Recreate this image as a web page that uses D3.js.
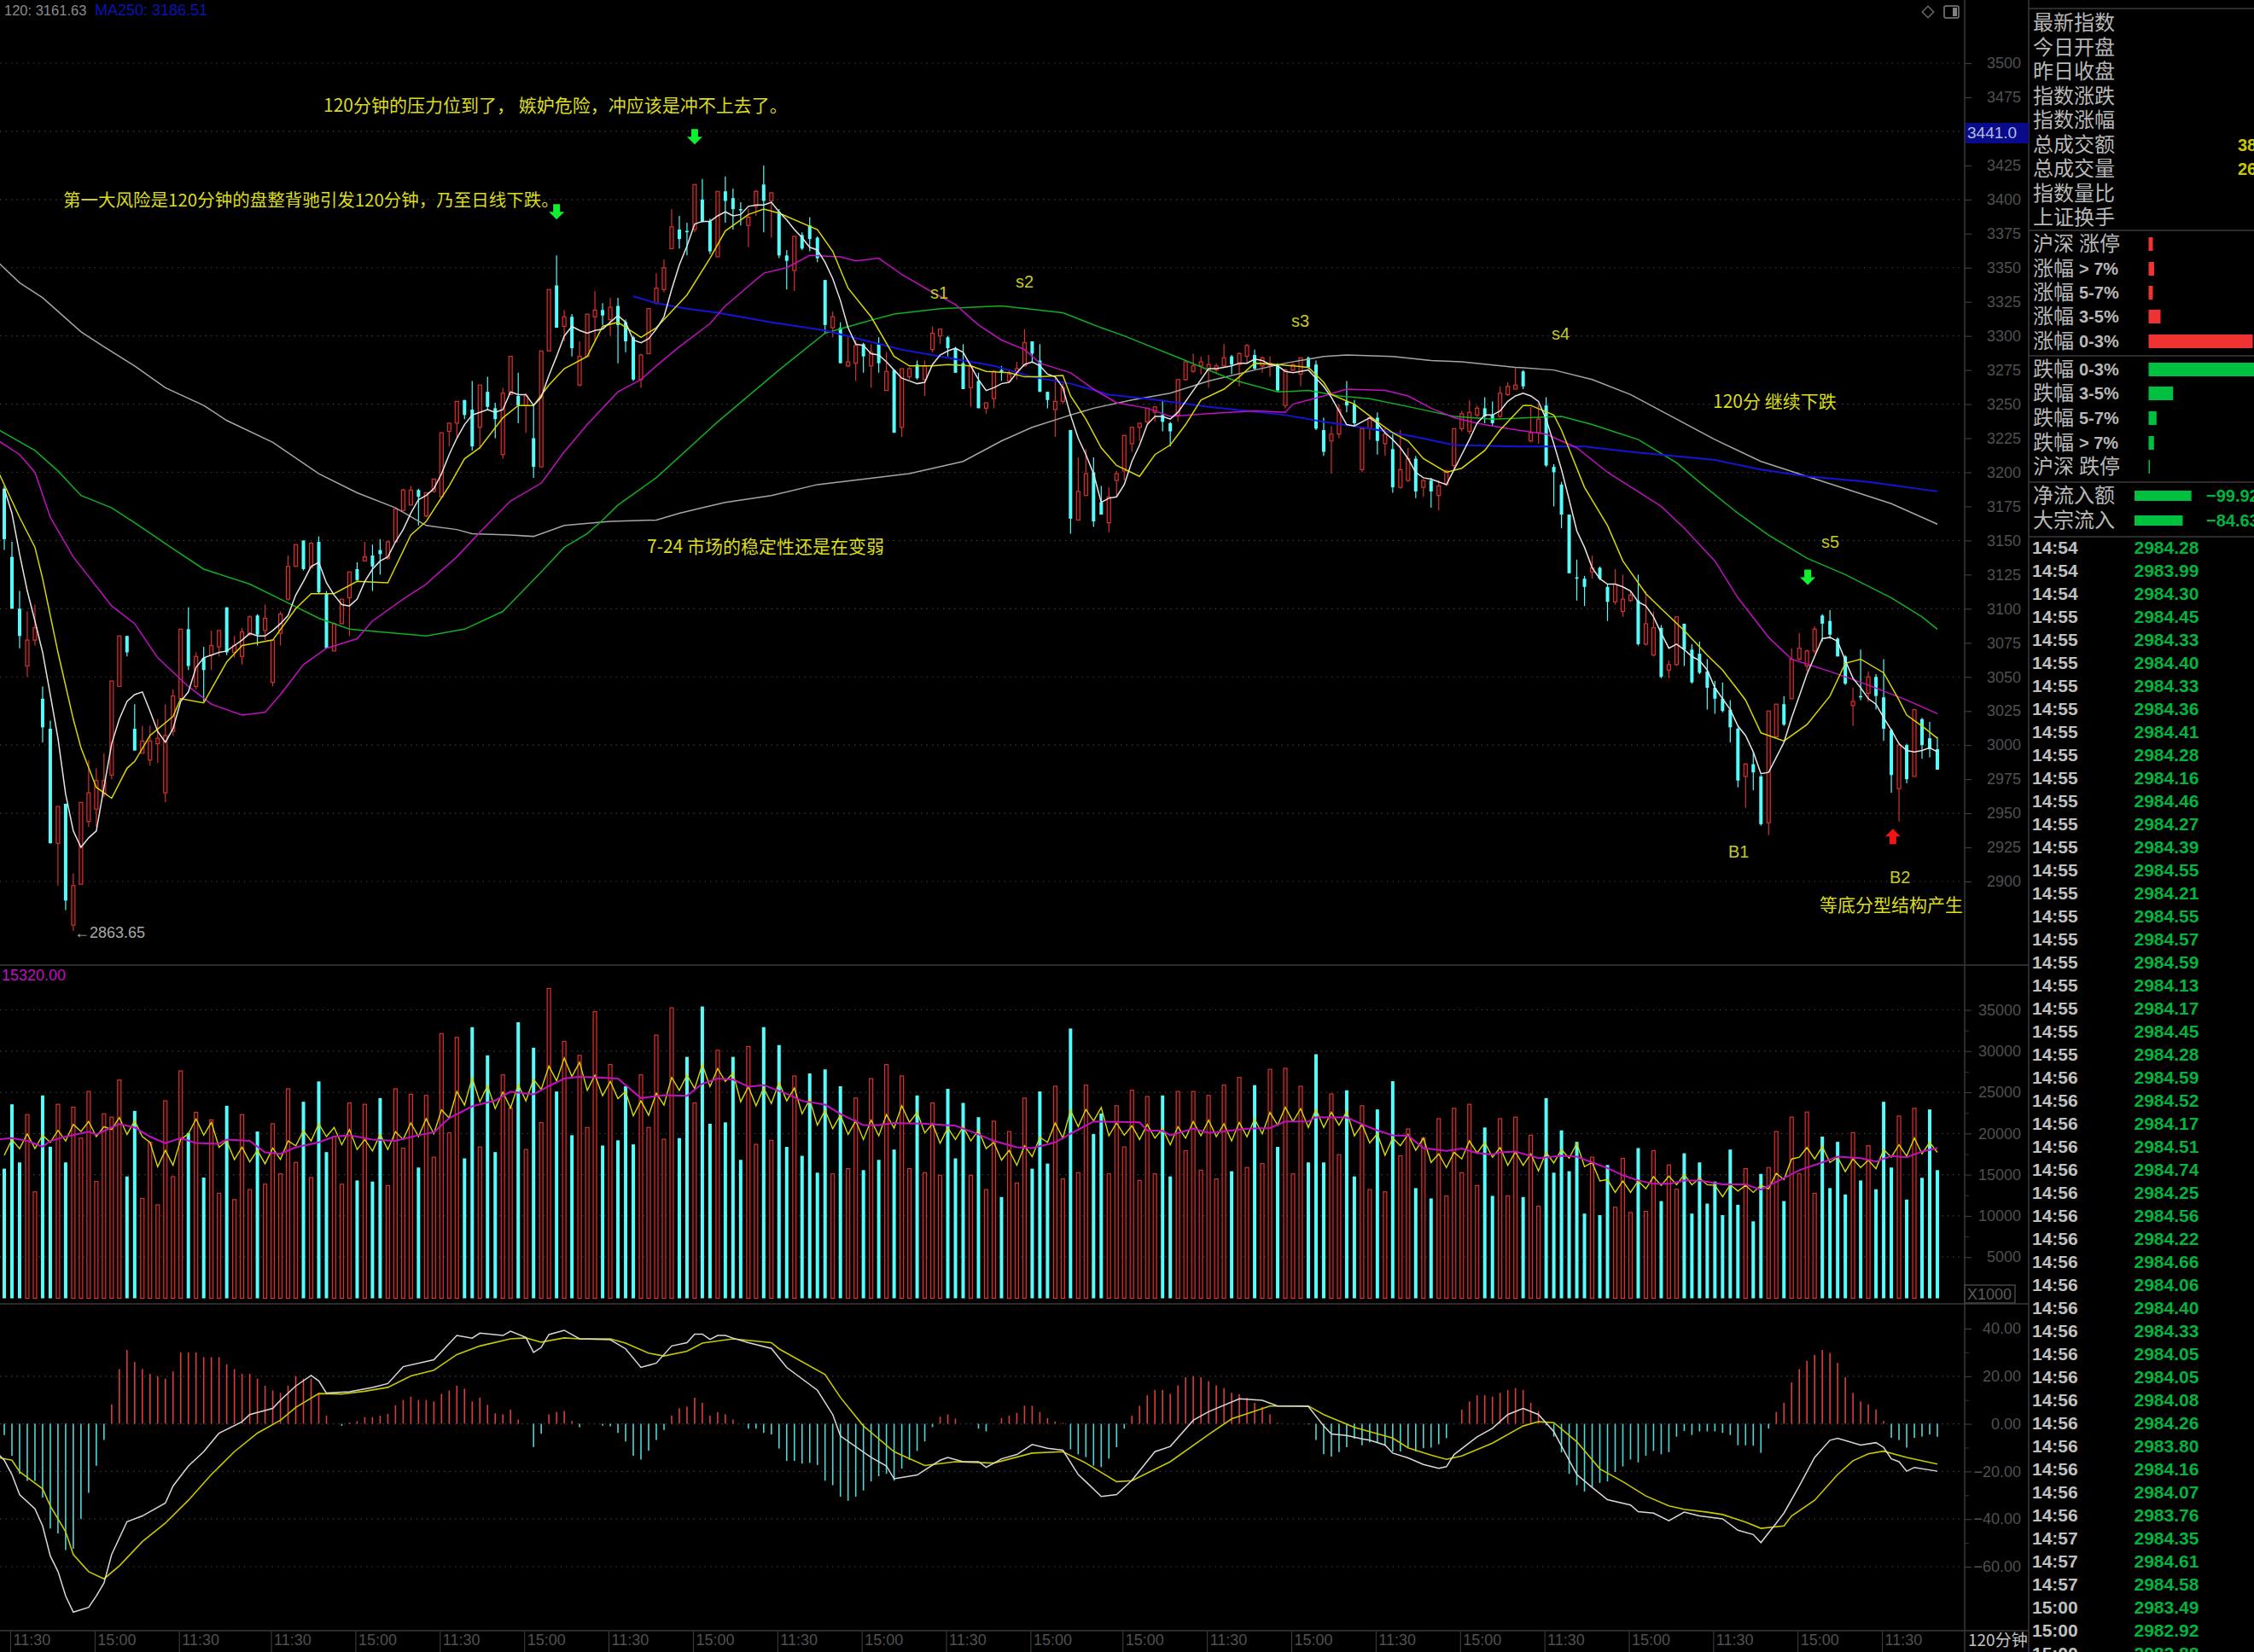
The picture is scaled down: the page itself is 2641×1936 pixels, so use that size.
<!DOCTYPE html>
<html>
<head>
<meta charset="utf-8">
<script src="https://cdn.jsdelivr.net/npm/d3@7"></script>
<style>
  html, body { margin: 0; padding: 0; background: #000; overflow: hidden; }
  svg { display: block; }
  text { font-family: "Liberation Sans", Arial, sans-serif; }
  .cjk { font-family: "Noto Sans CJK SC", sans-serif; }
</style>
</head>
<body>
<div id="viz"></div>
<script>
/* Candles, one value per 120 minute bar */
var opens = [
  3188,3138,3100,3058,3077,3034,3012,2928,2957,2868,2898,2944,2953,2964,2978,3043,3080,3012,2994,2989,
  3001,2965,3010,3034,3085,3043,3064,3066,3072,3101,3068,3065,3081,3095,3084,3046,3082,3107,3131,3150,
  3130,3149,3111,3069,3089,3108,3129,3135,3139,3143,3137,3149,3172,3176,3187,3168,3186,3182,3230,3236,
  3253,3246,3233,3259,3247,3213,3257,3256,3249,3225,3204,3289,3337,3307,3314,3264,3285,3314,3319,3312,
  3322,3310,3299,3268,3287,3324,3334,3364,3378,3377,3378,3400,3384,3358,3406,3401,3393,3381,3395,3411,
  3399,3391,3359,3348,3374,3381,3372,3341,3306,3306,3278,3280,3294,3278,3294,3260,3275,3233,3270,3279,
  3268,3290,3300,3299,3291,3280,3262,3267,3247,3254,3275,3267,3273,3278,3296,3282,3259,3246,3252,3231,
  3165,3183,3200,3178,3163,3194,3201,3221,3233,3237,3244,3242,3236,3242,3268,3274,3278,3275,3275,3278,
  3285,3279,3285,3286,3278,3278,3279,3249,3275,3272,3284,3279,3231,3223,3228,3252,3250,3202,3232,3240,
  3221,3217,3189,3194,3210,3189,3194,3183,3191,3205,3232,3230,3242,3247,3242,3241,3257,3261,3274,3223,
  3229,3249,3204,3191,3169,3123,3122,3127,3130,3116,3105,3098,3106,3106,3074,3066,3086,3055,3059,3089,
  3070,3067,3054,3042,3034,3026,3012,2977,2986,2977,2943,3006,3030,3034,3063,3058,3069,3095,3091,3078,
  3065,3029,3036,3038,3050,3035,3011,2968,3000,2977,3019,3005,2997
];
var closes = [
  3151,3100,3080,3077,3086,3013,2928,2955,2886,2897,2958,2965,2974,2974,3047,3080,3068,2996,3003,3003,
  3005,3007,3036,3085,3058,3065,3055,3073,3084,3068,3073,3083,3094,3081,3093,3077,3096,3131,3147,3129,
  3148,3112,3071,3089,3107,3127,3121,3138,3131,3140,3149,3173,3187,3187,3182,3185,3195,3229,3236,3252,
  3242,3219,3264,3248,3239,3258,3285,3249,3256,3204,3289,3334,3306,3314,3291,3285,3316,3319,3315,3321,
  3308,3296,3268,3286,3320,3335,3350,3380,3371,3376,3411,3384,3362,3406,3399,3393,3392,3387,3406,3399,
  3405,3359,3355,3373,3364,3371,3357,3308,3314,3280,3281,3293,3285,3288,3280,3274,3229,3276,3276,3269,
  3278,3302,3305,3291,3273,3261,3278,3247,3251,3274,3273,3272,3276,3295,3287,3259,3253,3252,3262,3166,
  3186,3199,3164,3169,3182,3199,3227,3233,3236,3247,3248,3237,3230,3268,3281,3278,3281,3279,3278,3284,
  3279,3287,3293,3276,3284,3280,3260,3275,3279,3284,3277,3232,3215,3228,3246,3249,3236,3232,3240,3223,
  3228,3189,3202,3210,3186,3194,3186,3190,3201,3232,3243,3244,3247,3241,3236,3258,3263,3264,3263,3229,
  3239,3205,3200,3169,3126,3122,3116,3130,3122,3105,3118,3107,3110,3074,3089,3086,3050,3059,3094,3070,
  3046,3053,3042,3034,3025,3013,2974,2986,2980,2942,3025,3030,3015,3063,3071,3069,3085,3089,3081,3065,
  3045,3032,3035,3050,3036,3012,2978,3000,2975,3026,3000,2997,2982
];
var highs = [
  3190,3149,3113,3098,3103,3043,3018,2955,2957,2906,2958,2989,2983,2994,3047,3080,3080,3030,3014,3014,
  3019,3030,3041,3085,3101,3068,3072,3084,3084,3101,3080,3086,3095,3096,3103,3077,3098,3139,3147,3150,
  3149,3153,3113,3090,3107,3127,3134,3149,3147,3151,3150,3173,3188,3190,3188,3185,3195,3229,3236,3252,
  3253,3267,3264,3270,3251,3262,3285,3273,3258,3250,3289,3334,3359,3319,3316,3296,3316,3333,3324,3328,
  3328,3312,3300,3287,3320,3346,3356,3393,3388,3383,3411,3415,3386,3406,3417,3408,3398,3393,3407,3425,
  3405,3393,3363,3373,3376,3387,3373,3341,3318,3310,3299,3297,3295,3294,3299,3288,3275,3276,3277,3282,
  3282,3307,3305,3300,3292,3294,3280,3273,3251,3275,3278,3275,3281,3305,3296,3294,3259,3270,3265,3231,
  3211,3217,3211,3190,3189,3201,3227,3233,3236,3247,3248,3253,3237,3268,3281,3287,3285,3286,3280,3294,
  3286,3288,3294,3290,3285,3285,3280,3276,3280,3284,3285,3282,3240,3234,3250,3267,3253,3233,3241,3244,
  3232,3228,3231,3218,3212,3195,3196,3194,3202,3232,3245,3253,3249,3255,3252,3263,3266,3277,3275,3248,
  3250,3255,3206,3193,3169,3136,3124,3139,3131,3118,3129,3125,3113,3125,3113,3098,3088,3062,3094,3089,
  3074,3076,3063,3047,3046,3033,3013,2987,2995,2978,3025,3030,3036,3071,3082,3070,3087,3096,3099,3079,
  3066,3042,3070,3054,3052,3063,3012,3001,3001,3026,3020,3017,3006
];
var lows = [
  3143,3100,3071,3050,3073,3002,2928,2897,2879,2863.65,2898,2940,2940,2962,2975,3043,3065,2996,2994,2985,
  2987,2958,3007,3034,3055,3041,3032,3055,3065,3066,3064,3059,3080,3073,3077,3043,3073,3106,3131,3128,
  3130,3111,3071,3069,3089,3080,3120,3135,3113,3125,3136,3149,3172,3176,3161,3167,3185,3182,3219,3226,
  3239,3216,3217,3246,3225,3210,3257,3236,3229,3196,3204,3289,3306,3296,3285,3263,3285,3296,3308,3300,
  3280,3288,3267,3262,3287,3323,3332,3364,3364,3359,3376,3383,3360,3358,3383,3378,3381,3365,3388,3376,
  3372,3357,3334,3333,3363,3362,3354,3302,3299,3280,3277,3267,3273,3262,3273,3260,3229,3226,3268,3268,
  3256,3288,3294,3285,3273,3261,3248,3247,3243,3247,3267,3266,3268,3278,3280,3259,3247,3226,3250,3155,
  3165,3183,3160,3169,3156,3182,3194,3215,3223,3235,3237,3230,3219,3237,3267,3273,3272,3262,3273,3278,
  3272,3263,3280,3275,3273,3270,3259,3247,3274,3263,3276,3231,3212,3199,3225,3244,3234,3200,3224,3213,
  3212,3185,3188,3193,3181,3182,3174,3172,3190,3202,3230,3228,3240,3236,3234,3239,3256,3261,3261,3222,
  3221,3204,3175,3159,3126,3106,3102,3122,3121,3091,3103,3094,3105,3073,3073,3065,3049,3049,3058,3058,
  3045,3052,3026,3023,3024,3002,2969,2954,2967,2941,2934,3006,3014,3034,3062,3054,3067,3076,3078,3065,
  3044,3014,3033,3032,3026,3003,2965,2944,2972,2977,2990,2991,2982
];

/* Volume bars and the two volume averages */
var volumes = [
  15730,23540,16490,22290,12920,24620,18400,23540,16490,23190,19440,25100,14170,22390,21980,26490,14790,22740,12120,18920,
  11350,23960,14760,27600,20070,22570,14650,21670,12740,23370,11980,22290,13190,20240,13850,21180,15100,25420,16490,23850,
  14650,26320,17740,19620,13850,23710,14300,23540,14170,24300,13680,25420,18230,24760,15870,24620,17120,32120,20070,31660,
  16980,32910,18370,29480,17740,27120,23090,33500,18050,30410,21320,37600,25100,31180,19790,29480,20730,34790,18540,28370,
  19170,25730,18680,27120,20730,31940,19300,35240,19440,29300,23710,35410,21180,30100,21350,29300,16800,30550,18680,32910,
  19170,30730,18370,26980,17290,27290,15240,27780,15100,25730,15730,24300,15550,26660,16800,28370,18050,26980,15730,24620,
  15240,23710,14930,25420,16980,23710,14930,21980,13190,21490,12290,20240,13990,24300,15730,25100,16350,25730,14480,32740,
  15240,25870,19930,22430,15100,23370,18370,25240,14300,24480,15100,24620,14790,25100,17920,25100,15550,24620,14480,25870,
  15420,26800,15870,25870,16350,27780,18370,27910,15100,25730,16490,29620,16490,24790,17430,25240,14790,23370,13190,22920,
  12920,26350,17290,20550,13370,19440,12120,21800,12430,23050,15240,23540,13680,20730,12430,21800,12430,21980,12290,19790,
  11180,24300,15240,20380,15420,18990,10280,17120,10100,16180,11040,16980,10420,18230,10550,17920,11800,16180,13230,17600,
  10280,16490,11490,14170,10100,18050,11350,15730,9340,15100,15870,20240,11800,21980,15100,22600,12740,19620,13370,18990,
  12600,20100,14300,18510,13230,23850,15870,22120,11980,23050,14620,22920,15550
];
var volShort = [
  17360,19270,18160,19960,18160,19790,18920,20380,19100,21110,20240,21460,19620,20830,20480,21940,19890,21530,19620,18920,
  15970,17950,16140,19270,19960,21770,19790,21350,18330,19100,16840,18330,16560,17950,16320,18230,16840,19100,18510,20310,
  19100,21180,19620,20730,18640,20480,18050,19270,17880,19890,18050,20210,19270,21280,19620,21800,19960,22880,21870,25100,
  23440,26730,23850,25800,23020,25030,23090,25940,23960,26560,25350,28190,26390,29160,26910,28640,25240,27080,24580,26320,
  24230,25100,22150,23960,22220,24890,23440,26800,25240,27080,25450,28370,25690,27880,26320,27320,23850,25690,23370,25520,
  23640,26210,23960,25520,22390,24130,21010,22810,20590,22220,19890,21530,19270,21630,19720,22290,20660,23370,21350,22570,
  20070,21180,18820,20660,19270,20830,19100,20380,18160,18920,16770,17950,16140,18510,17190,19550,18920,21280,19440,22810,
  20830,22920,21530,23160,19720,21280,19790,20940,19270,21110,19440,20590,18640,20830,19440,21460,19720,21630,19620,21180,
  19100,21350,19620,21770,19960,22570,21010,23190,21460,23020,20730,22920,20730,22570,21010,22670,19720,21110,18850,19960,
  17360,19440,18510,19890,17950,19440,16490,17530,15870,17710,16910,19100,17640,18920,17120,18300,16140,17780,16140,17530,
  15450,17710,16420,18050,17010,18820,15970,16490,14240,14410,12850,14240,12850,14240,13300,14760,13710,14830,13780,15030,
  13780,14580,13780,13710,12330,13780,13020,13710,12850,13710,13300,15170,14410,16910,17120,18300,16910,18400,16490,17120,
  15380,16910,15870,16770,15730,18050,17120,18640,17260,19440,17530,18920,17710
];
var volLong = [
  [-1,19270],[1,19440],[3,19100],[5,18400],[6,19100],[8,19620],[11,20210],[12,19890],[15,21140],[17,20730],[19,19620],
  [21,18820],[23,19440],[25,18850],[28,18750],[29,19270],[32,19100],[34,17710],[36,17530],[38,18330],[41,18920],[43,19620],
  [45,19790],[48,19270],[51,19100],[54,19790],[56,20140],[58,21870],[61,23300],[64,24000],[66,25070],[69,24760],[71,25760],
  [73,26660],[75,26900],[80,26660],[83,24300],[86,24650],[89,24580],[91,26040],[93,26660],[95,26560],[97,25690],[99,25870],
  [102,24820],[104,23960],[107,23500],[109,22390],[112,21010],[114,21010],[116,21280],[120,21180],[124,20940],[127,19890],
  [129,19100],[132,18330],[134,18230],[137,18920],[139,19960],[142,21460],[148,21350],[149,20380],[151,20310],[152,19790],
  [155,20590],[157,20070],[162,20590],[165,20660],[167,21460],[170,21460],[171,21980],[175,21940],[177,21110],[179,20380],
  [181,19790],[183,19720],[185,18230],[188,17880],[190,18160],[192,17640],[194,17460],[195,17710],[197,17810],[200,17010],
  [203,17290],[205,17190],[207,16490],[209,15800],[211,14930],[213,14300],[215,13890],[217,13890],[219,14300],[221,14300],
  [224,13820],[227,13820],[229,13190],[231,14130],[234,15550],[237,16490],[239,17190],[242,17010],[244,16600],[246,17260],
  [248,17120],[250,17810],[252,18230]
];

/* Price averages: the fast one per bar, the others as [bar, value] readings */
var ma5 = [
  3188,3170,3140,3113,3091,3068,3037,3005,2964,2937,2925,2932,2937,2969,3001,3019,3032,3037,3039,3025,
  3010,3002,3012,3032,3039,3057,3064,3066,3068,3069,3073,3077,3082,3080,3080,3084,3089,3095,3110,3120,
  3131,3134,3119,3110,3103,3102,3107,3120,3129,3135,3138,3149,3158,3170,3180,3183,3188,3199,3213,3225,
  3235,3242,3244,3246,3244,3246,3259,3257,3257,3249,3255,3271,3285,3300,3307,3304,3302,3304,3305,3310,
  3315,3310,3297,3295,3298,3305,3314,3334,3352,3366,3382,3384,3384,3388,3391,3388,3389,3395,3396,3396,
  3398,3391,3385,3378,3372,3365,3363,3354,3342,3326,3306,3294,3293,3287,3286,3281,3275,3269,3267,3265,
  3266,3279,3286,3289,3291,3288,3278,3268,3260,3262,3265,3266,3273,3279,3281,3278,3272,3270,3262,3242,
  3225,3213,3199,3178,3181,3182,3191,3208,3220,3235,3241,3241,3239,3244,3252,3260,3268,3276,3276,3277,
  3278,3280,3280,3283,3282,3279,3278,3274,3273,3274,3275,3269,3263,3255,3245,3235,3234,3237,3240,3236,
  3229,3224,3218,3210,3200,3196,3195,3193,3191,3202,3213,3224,3236,3242,3242,3245,3252,3256,3258,3256,
  3252,3239,3221,3202,3180,3157,3145,3130,3122,3118,3118,3116,3113,3105,3102,3094,3082,3071,3074,3070,
  3065,3062,3055,3042,3034,3026,3014,3007,2995,2979,2980,2991,3002,3020,3036,3052,3065,3078,3079,3076,
  3062,3049,3042,3034,3030,3020,3011,3001,2996,2995,2996,2998,2995
];
var ma10 = [
  [-1,3203],[2,3167],[4,3145],[5,3122],[7,3068],[9,3019],[10,2998],[12,2969],[14,2961],[16,2983],[17,2988],[19,3007],
  [22,3021],[23,3034],[26,3031],[29,3061],[31,3073],[35,3077],[38,3100],[40,3111],[43,3111],[46,3120],[50,3119],[53,3154],
  [55,3164],[58,3190],[60,3210],[62,3218],[65,3240],[67,3249],[69,3249],[71,3264],[73,3276],[76,3285],[78,3307],[80,3310],
  [83,3299],[85,3306],[86,3312],[89,3330],[92,3357],[94,3377],[97,3389],[99,3393],[101,3390],[106,3378],[108,3362],
  [110,3335],[113,3314],[116,3285],[118,3278],[121,3278],[123,3279],[126,3278],[128,3274],[131,3273],[133,3270],[135,3270],
  [138,3271],[139,3256],[141,3239],[143,3218],[145,3205],[148,3197],[150,3213],[152,3220],[154,3235],[156,3253],[159,3261],
  [161,3270],[163,3280],[166,3279],[170,3277],[172,3266],[173,3257],[176,3250],[179,3237],[181,3229],[183,3223],[185,3210],
  [188,3200],[190,3203],[193,3216],[195,3231],[198,3249],[199,3249],[202,3242],[203,3231],[206,3189],[209,3161],[211,3135],
  [214,3111],[216,3100],[219,3084],[222,3066],[224,3055],[227,3033],[229,3009],[232,3003],[235,3015],[238,3036],[240,3060],
  [242,3063],[245,3053],[247,3033],[248,3022],[250,3014],[252,3005]
];
var ma30 = [
  [-1,3224],[2,3213],[4,3200],[6,3167],[9,3138],[14,3102],[17,3089],[20,3064],[24,3043],[27,3030],[31,3022],[34,3024],
  [36,3037],[39,3059],[42,3071],[46,3078],[48,3091],[52,3107],[55,3118],[59,3138],[62,3156],[66,3179],[70,3192],[73,3215],
  [76,3235],[80,3259],[83,3268],[85,3278],[88,3292],[92,3309],[94,3322],[99,3346],[102,3350],[105,3359],[109,3358],
  [111,3355],[114,3357],[117,3345],[121,3332],[124,3323],[127,3308],[130,3297],[133,3290],[135,3280],[139,3273],[142,3261],
  [145,3251],[149,3247],[152,3241],[157,3243],[163,3245],[167,3244],[168,3250],[172,3256],[175,3261],[180,3260],[183,3256],
  [186,3247],[189,3240],[192,3236],[196,3232],[201,3228],[205,3218],[209,3200],[216,3175],[219,3159],[223,3135],[226,3108],
  [230,3079],[233,3063],[238,3054],[243,3044],[248,3033],[252,3023]
];
var ma60 = [
  [-1,3232],[4,3216],[7,3201],[10,3183],[14,3174],[17,3163],[22,3144],[26,3129],[32,3118],[36,3107],[41,3093],[45,3085],
  [49,3083],[55,3080],[60,3085],[65,3098],[70,3127],[73,3145],[76,3155],[78,3165],[80,3176],[85,3196],[93,3237],[101,3275],
  [107,3302],[112,3310],[116,3316],[122,3320],[130,3322],[138,3317],[143,3306],[146,3300],[154,3282],[160,3268],[166,3259],
  [170,3260],[174,3256],[178,3254],[184,3247],[189,3241],[194,3239],[203,3241],[207,3235],[213,3224],[218,3207],[222,3188],
  [226,3170],[230,3154],[235,3137],[240,3125],[246,3108],[250,3094],[252,3085]
];
var ma120 = [
  [-1,3355],[2,3339],[5,3328],[10,3303],[13,3292],[17,3278],[21,3262],[26,3249],[29,3238],[35,3222],[41,3199],[46,3185],
  [51,3174],[55,3161],[59,3158],[61,3155],[66,3154],[69,3153],[73,3161],[79,3164],[85,3165],[88,3170],[91,3174],[94,3178],
  [100,3183],[106,3191],[112,3195],[118,3199],[125,3208],[130,3223],[134,3233],[139,3242],[142,3247],[147,3253],[152,3258],
  [157,3267],[163,3275],[167,3280],[172,3285],[175,3286],[181,3285],[186,3282],[190,3281],[197,3277],[202,3275],[207,3268],
  [212,3257],[218,3239],[223,3224],[229,3208],[235,3197],[240,3188],[246,3177],[252,3162]
];
var ma250 = [
  [82,3329],[85,3324],[89,3320],[93,3317],[100,3310],[107,3304],[112,3297],[117,3290],[123,3284],[129,3278],[134,3270],
  [139,3265],[144,3257],[149,3254],[157,3248],[167,3242],[172,3237],[178,3232],[184,3226],[189,3220],[197,3219],[206,3219],
  [212,3215],[223,3209],[229,3202],[235,3197],[243,3193],[252,3186]
];

/* MACD: histogram per bar, DIF and DEA as [bar, value] readings */
var macdHist = [
  -4.7,-13.4,-21,-24,-24,-31,-44,-46,-53,-52.5,-40,-29,-17.6,-6.8,8.2,23,31,26,23,21,
  20,19,22,30,30,30,28,28,28,25,23,21,21,19,16,14,13,16,20,19,
  19,13,3.4,0,-0.8,0.6,1.2,2.8,2.8,3.4,4.2,7.8,10,11.4,10,10,9.4,12.6,14,16,
  14.8,9.4,11,8,4.4,4,6,1.8,0,-9.7,-4.2,4,5,5.4,1.2,-1.4,0,0,-0.8,-1,
  -3.8,-7.4,-13.4,-15,-11.3,-6.8,-2.6,3.4,6.6,7.2,11,8.8,3.4,4.9,4,1.8,0,-2,-2,-3.8,
  -4.4,-10.4,-15.6,-15.6,-16.7,-16.4,-17.3,-23.9,-25.8,-30.6,-32.3,-30.6,-28,-24.2,-22,-21,-23.9,-18.8,-15.2,-11.4,
  -7.4,-1.4,3,4,2.2,0,0,-2,-3.2,0,2.4,3.4,4.6,7.6,7.6,4.9,2.4,1,0.4,-10.7,
  -12.8,-14,-17.6,-18.2,-14.6,-9.8,-2,3.4,7.6,12,14.2,14.2,12.6,16.2,19.6,20,19.6,18,16.2,15,
  13,12.4,11,8.8,7,4,0.4,0,0,0,-0.2,-6.8,-12.8,-13.8,-11.9,-9.8,-6.2,-9,-7.8,-8,
  -9.2,-11.6,-11.6,-9.8,-11.6,-10.2,-10,-8.6,-6,0,6,9.4,12,12,11.4,13,14.2,15,14.2,8.8,
  5.4,-0.6,-5.4,-12,-21,-25.8,-28.4,-26.4,-24.8,-24.2,-20.2,-17.9,-15,-16.2,-13.4,-11.4,-12.8,-11.9,-5.4,-3,
  -4.7,-3.2,-3.2,-3.2,-3.8,-4.7,-9,-9,-9.2,-12.2,-2,4.9,8.8,17.4,23,26.5,29,31,29.8,25.6,
  19.6,13,9.4,8.2,6,1.2,-5.9,-6.8,-10,-5.9,-5.3,-4.4,-5.4
];
var dif = [
  [-1,-12],[0,-15.3],[1,-21.3],[2,-29.7],[4,-35.7],[5,-42.9],[6,-55.5],[7,-62],[8,-72.3],[9,-79.1],[11,-77.1],[12,-72.3],
  [13,-66.9],[14,-54.9],[16,-41.1],[18,-38.7],[21,-33.3],[22,-26.1],[24,-17.7],[26,-11.7],[28,-3.9],[31,0.9],[32,3.9],
  [35,6.5],[36,9.9],[38,15.9],[40,20.3],[41,18],[42,12.9],[45,13.5],[48,15.3],[50,16.9],[52,24],[56,26.9],[59,37.1],
  [61,36],[62,38.1],[65,37.1],[66,38.9],[68,36.3],[69,30],[70,32.1],[71,37.5],[73,39.3],[75,35.7],[79,35.3],[81,31.5],
  [83,23.7],[85,25.5],[87,32.7],[89,34.1],[90,37.7],[91,37.7],[92,35.5],[93,37.1],[94,37.1],[95,36],[97,34.1],[100,31.7],
  [102,23.7],[106,14.1],[108,3.9],[109,-5.1],[113,-14.1],[115,-17.7],[116,-23.1],[119,-21.5],[122,-15.3],[123,-14.1],
  [125,-15.9],[127,-15.9],[128,-18.3],[130,-14.7],[132,-12.9],[134,-8.7],[136,-10.3],[138,-11.1],[140,-21.3],[141,-24.3],
  [143,-30.5],[145,-29.7],[147,-23.7],[150,-11.7],[152,-9.5],[155,1.5],[157,5.1],[161,10.5],[164,9.9],[166,7.5],[170,7.3],
  [172,-0.9],[173,-4.3],[175,-4.9],[177,-6.3],[178,-6.9],[180,-8.9],[181,-12.3],[183,-14.3],[185,-17.1],[187,-18.7],
  [188,-18],[189,-12.9],[192,-5.5],[194,-1.9],[196,3.9],[198,6.5],[200,3.9],[202,-3.3],[203,-9.3],[205,-21.3],[207,-26.7],
  [209,-31.9],[212,-34.1],[213,-36.9],[215,-37.5],[217,-40.7],[219,-37.1],[221,-38.7],[224,-39.9],[226,-44.7],[228,-46.5],
  [229,-49.9],[231,-41.7],[232,-37.5],[234,-26.1],[236,-14.1],[238,-6.9],[239,-6.1],[242,-8.9],[244,-7.9],[245,-9.9],
  [246,-14.7],[247,-15.9],[248,-19.9],[249,-18.3],[252,-19.9]
];
var dea = [
  [-1,-14],[1,-15.3],[2,-20.1],[5,-27.3],[6,-34.5],[8,-45.3],[9,-54.9],[11,-62.1],[13,-65.1],[15,-59.7],[18,-49.5],[21,-41.7],
  [24,-32.1],[27,-21.3],[30,-11.7],[33,-3.9],[36,1.5],[38,6.9],[41,12.7],[44,12.5],[47,13.7],[50,15.3],[53,20.1],[56,22.5],
  [59,29.1],[62,32.7],[66,35.7],[68,36.1],[70,34.3],[73,36.1],[75,35.7],[79,35.7],[81,33.9],[84,29.7],[86,28.5],[89,30.5],
  [91,33.9],[95,35.7],[100,34.1],[101,31.5],[107,20.7],[109,11.1],[112,-0.9],[116,-11.7],[120,-17.5],[124,-15.9],[129,-16.5],
  [134,-12.3],[138,-11.7],[141,-16.5],[145,-24.3],[147,-23.9],[152,-15.9],[157,-4.5],[160,2.1],[165,7.5],[170,7.5],[172,3.9],
  [176,-1.5],[181,-6],[183,-10.1],[186,-13.1],[188,-14.9],[190,-13.5],[194,-8.1],[198,-0.9],[200,0.9],[202,0.5],[205,-7.5],
  [208,-18.9],[211,-24.3],[214,-30.3],[217,-34.5],[219,-35.9],[222,-37.1],[224,-38.1],[227,-41.3],[229,-43.9],[232,-42.9],
  [233,-38.7],[236,-32.1],[239,-21.3],[241,-15.5],[243,-12.6],[245,-11.5],[248,-14.1],[252,-16.9]
];

/* Axis labels */
var priceTicks = [3500,3475,3425,3400,3375,3350,3325,3300,3275,3250,3225,3200,3175,3150,3125,3100,3075,3050,3025,3000,2975,2950,2925,2900];
var priceGrid = [3500,3450,3400,3350,3300,3250,3200,3150,3100,3050,3000,2950,2900];
var volTicks = [35000,30000,25000,20000,15000,10000,5000];
var volMinorTicks = [32500,27500,22500,17500,12500,7500];
var macdTicks = [40,20,0,-20,-40,-60];
var macdMinorTicks = [30,10,-10,-30,-50];
var macdGrid = [20,0,-20,-40,-60];
var timeBars = [1,12,23,35,46,57,68,79,90,101,112,123,134,146,157,168,179,190,201,212,223,234,245];
var timeLabels = ["11:30","15:00","11:30","11:30","15:00","11:30","15:00","11:30","15:00","11:30","15:00","11:30","15:00","15:00","11:30","15:00","11:30","15:00","11:30","15:00","11:30","15:00","11:30"];

/* Right hand quote panel */
var infoLabels = ["最新指数","今日开盘","昨日收盘","指数涨跌","指数涨幅","总成交额","总成交量","指数量比","上证换手"];
var breadthLeft = ["沪深","涨幅","涨幅","涨幅","涨幅","跌幅","跌幅","跌幅","跌幅","沪深"];
var breadthRight = ["涨停","> 7%","5-7%","3-5%","0-3%","0-3%","3-5%","5-7%","> 7%","跌停"];
var breadthCounts = [50,65,50,140,1220,1300,287,93,63,15];
var flowLabels = ["净流入额","大宗流入"];
var flowValues = [-99.92,-84.63];
var tapeTimes = ["14:54","14:54","14:54","14:55","14:55","14:55","14:55","14:55","14:55","14:55","14:55","14:55","14:55","14:55","14:55","14:55","14:55","14:55","14:55","14:55","14:55","14:55","14:55","14:56","14:56","14:56","14:56","14:56","14:56","14:56","14:56","14:56","14:56","14:56","14:56","14:56","14:56","14:56","14:56","14:56","14:56","14:56","14:56","14:57","14:57","14:57","15:00","15:00","15:00"];
var tapePrices = [2984.28,2983.99,2984.30,2984.45,2984.33,2984.40,2984.33,2984.36,2984.41,2984.28,2984.16,2984.46,2984.27,2984.39,2984.55,2984.21,2984.55,2984.57,2984.59,2984.13,2984.17,2984.45,2984.28,2984.59,2984.52,2984.17,2984.51,2984.74,2984.25,2984.56,2984.22,2984.66,2984.06,2984.40,2984.33,2984.05,2984.05,2984.08,2984.26,2983.80,2984.16,2984.07,2983.76,2984.35,2984.61,2984.58,2983.49,2982.92,2982.88];

var width = 2641;
var height = 1936;
var axisX = 2302;
var panelX = 2377;
var gridColor = "#3c3c3c";
var lineColor = "#3a3a3a";
var tickColor = "#505050";
var upColor = "#d23232";
var downColor = "#54fcfc";
var noteColor = "#dcdc1e";

var svg = d3
  .select("#viz")
  .append("svg")
  .attr("width", width)
  .attr("height", height);

svg.append("rect").attr("width", width).attr("height", height).attr("fill", "#000");

/* Scales */
var xScale = d3.scaleLinear().domain([0, 252]).range([5, 2270]);
var yPrice = d3.scaleLinear().domain([2900, 3500]).range([1033, 74]);
var yVol = d3.scaleLinear().domain([0, 35000]).range([1521.5, 1183.5]);
var yMacd = d3.scaleLinear().domain([-60, 40]).range([1836, 1557]);
var flowWidth = d3.scaleLinear().domain([0, 100]).range([0, 66.7]);
var breadthWidth = d3.scaleLinear().domain([0, 1000]).range([0, 100]);

function gridLines(values, scale) {
  svg
    .append("g")
    .selectAll("line")
    .data(values)
    .enter()
    .append("line")
    .attr("x1", 0)
    .attr("x2", axisX)
    .attr("y1", d => scale(d))
    .attr("y2", d => scale(d))
    .attr("stroke", gridColor)
    .attr("stroke-width", 1.2)
    .attr("stroke-dasharray", "1.5 5");
}
gridLines(priceGrid, yPrice);
gridLines(volTicks, yVol);
gridLines(macdGrid, yMacd);

/* Right axes with labels flush to the panel edge */
function rightAxis(scale, ticks, format, minor) {
  var g = svg
    .append("g")
    .attr("transform", `translate(${axisX},0)`)
    .call(d3.axisRight(scale).tickValues(ticks).tickFormat(format).tickSize(8));
  g.select(".domain").remove();
  g.selectAll("line").attr("stroke", "#444");
  g.selectAll("text")
    .attr("x", 66)
    .attr("text-anchor", "end")
    .attr("fill", tickColor)
    .attr("font-size", 18)
    .style("font-family", '"Liberation Sans"');
  if (minor) {
    var m = svg
      .append("g")
      .attr("transform", `translate(${axisX},0)`)
      .call(d3.axisRight(scale).tickValues(minor).tickFormat("").tickSize(5));
    m.select(".domain").remove();
    m.selectAll("line").attr("stroke", "#333");
  }
}
rightAxis(yPrice, priceTicks, d3.format("d"));
rightAxis(yVol, volTicks, d3.format("d"), volMinorTicks);
rightAxis(yMacd, macdTicks, d3.format(".2f"), macdMinorTicks);

/* Candles */
var candles = svg.append("g");
candles
  .selectAll("line")
  .data(opens)
  .enter()
  .append("line")
  .attr("x1", (d, i) => xScale(i))
  .attr("x2", (d, i) => xScale(i))
  .attr("y1", (d, i) => yPrice(highs[i]))
  .attr("y2", (d, i) => yPrice(lows[i]))
  .attr("stroke", (d, i) => (closes[i] >= d ? upColor : downColor))
  .attr("stroke-width", 1.2);
candles
  .selectAll("rect")
  .data(opens)
  .enter()
  .append("rect")
  .attr("x", (d, i) => xScale(i) - 2)
  .attr("width", 4)
  .attr("y", (d, i) => yPrice(Math.max(d, closes[i])))
  .attr("height", (d, i) => Math.max(1.5, Math.abs(yPrice(d) - yPrice(closes[i]))))
  .attr("fill", (d, i) => (closes[i] >= d ? "#1a0505" : downColor))
  .attr("stroke", (d, i) => (closes[i] >= d ? upColor : "none"))
  .attr("stroke-width", 1.2);

/* Moving average lines */
var pairLine = d3.line().x(d => xScale(d[0])).y(d => yPrice(d[1]));
var seriesLine = d3.line().x((d, i) => xScale(i)).y(d => yPrice(d));

function drawPath(d, color, w) {
  svg
    .append("path")
    .attr("d", d)
    .attr("fill", "none")
    .attr("stroke", color)
    .attr("stroke-width", w);
}
drawPath(pairLine(ma120), "#a6a6a6", 1.5);
drawPath(pairLine(ma60), "#10b020", 1.5);
drawPath(pairLine(ma250), "#1414d8", 2);
drawPath(pairLine(ma30), "#c010c0", 1.5);
drawPath(pairLine(ma10), "#d8d800", 1.5);
drawPath(seriesLine(ma5), "#e4e4e4", 1.5);

/* Volume bars */
var volBars = svg.append("g");
volBars
  .selectAll("rect")
  .data(volumes)
  .enter()
  .append("rect")
  .attr("x", (d, i) => xScale(i) - 2)
  .attr("width", 4)
  .attr("y", d => yVol(d))
  .attr("height", d => yVol(0) - yVol(d))
  .attr("fill", (d, i) => (closes[i] >= opens[i] ? "#1a0505" : downColor))
  .attr("stroke", (d, i) => (closes[i] >= opens[i] ? upColor : "none"))
  .attr("stroke-width", 1.2);

drawPath(d3.line().x((d, i) => xScale(i)).y(d => yVol(d))(volShort), "#d8d800", 1.4);
drawPath(d3.line().x(d => xScale(d[0])).y(d => yVol(d[1]))(volLong), "#c010c0", 2);

/* MACD histogram and lines */
svg
  .append("g")
  .selectAll("line")
  .data(macdHist)
  .enter()
  .append("line")
  .attr("x1", (d, i) => xScale(i))
  .attr("x2", (d, i) => xScale(i))
  .attr("y1", yMacd(0))
  .attr("y2", d => yMacd(d))
  .attr("stroke", d => (d >= 0 ? "#dc3c3c" : "#4cd8d8"))
  .attr("stroke-width", 1.6);

var macdLine = d3.line().x(d => xScale(d[0])).y(d => yMacd(d[1]));
drawPath(macdLine(dea), "#c8c800", 1.6);
drawPath(macdLine(dif), "#d8d8d8", 1.5);

/* Time axis */
var timeAxis = svg
  .append("g")
  .attr("transform", "translate(0,1911)")
  .call(
    d3
      .axisBottom(d3.scaleLinear().domain([0, 252]).range([xScale(0) - 2, xScale(252) - 2]))
      .tickValues(timeBars)
      .tickFormat((d, i) => timeLabels[i])
      .tickSize(25)
  );
timeAxis.select(".domain").remove();
timeAxis.selectAll("line").attr("stroke", "#404040");
timeAxis
  .selectAll("text")
  .attr("x", 3)
  .attr("y", 11)
  .attr("dy", "0.35em")
  .attr("text-anchor", "start")
  .attr("fill", tickColor)
  .attr("font-size", 18)
  .style("font-family", '"Liberation Sans"');

/* Panel frames */
function rule(x1, y1, x2, y2, color, w) {
  svg
    .append("line")
    .attr("x1", x1)
    .attr("y1", y1)
    .attr("x2", x2)
    .attr("y2", y2)
    .attr("stroke", color || lineColor)
    .attr("stroke-width", w || 1.5);
}
rule(axisX, 0, axisX, height);
rule(panelX, 0, panelX, height);
rule(0, 1131, panelX, 1131);
rule(0, 1528, panelX, 1528);
rule(0, 1911, panelX, 1911);
rule(panelX, 10, width, 10);
rule(panelX, 270, width, 270);
rule(panelX, 417, width, 417);
rule(panelX, 565, width, 565);
rule(panelX, 629, width, 629);

/* Header readouts */
function label(x, y, txt, color, size, cls, anchor) {
  return svg
    .append("text")
    .attr("x", x)
    .attr("y", y)
    .attr("dy", "0.35em")
    .attr("fill", color)
    .attr("font-size", size)
    .attr("class", cls || null)
    .attr("text-anchor", anchor || "start")
    .text(txt);
}
label(5, 12, "120: 3161.63", "#8c8c8c", 16.5);
label(111, 12, "MA250: 3186.51", "#0a14b4", 18);
label(2, 1143, "15320.00", "#c010c0", 18);

/* Window buttons */
svg
  .append("path")
  .attr("d", d3.symbol().type(d3.symbolSquare).size(90))
  .attr("transform", "translate(2259,14) rotate(45)")
  .attr("fill", "none")
  .attr("stroke", "#6a6a6a")
  .attr("stroke-width", 1.5);
svg.append("rect").attr("x", 2278).attr("y", 7).attr("width", 17).attr("height", 14).attr("rx", 2).attr("fill", "none").attr("stroke", "#808080").attr("stroke-width", 1.5);
svg.append("rect").attr("x", 2288).attr("y", 9).attr("width", 5).attr("height", 10).attr("fill", "#808080");

/* Crosshair price box, volume unit box, period box */
svg.append("rect").attr("x", axisX + 1).attr("y", 144).attr("width", panelX - axisX - 1).attr("height", 24).attr("fill", "#0a0a8c");
label(axisX + 3, 155, "3441.0", "#b4bce0", 19);
svg.append("rect").attr("x", axisX).attr("y", 1506).attr("width", 59).attr("height", 21).attr("fill", "none").attr("stroke", "#444").attr("stroke-width", 1.5);
label(axisX + 3, 1517, "X1000", "#5c5c5c", 18);
label(2306, 1922, "120分钟", "#c4c4c4", 19, "cjk");

/* Chart notes */
label(379, 124, "120分钟的压力位到了， 嫉妒危险，冲应该是冲不上去了。", noteColor, 21, "cjk");
label(74, 235, "第一大风险是120分钟的盘整背驰引发120分钟，乃至日线下跌。", noteColor, 20.5, "cjk");
label(758, 641, "7-24 市场的稳定性还是在变弱", noteColor, 21, "cjk");
label(2007, 471, "120分 继续下跌", noteColor, 21, "cjk");
label(2132, 1061, "等底分型结构产生", noteColor, 21, "cjk");
label(1090, 343, "s1", "#c8c81e", 20);
label(1190, 330, "s2", "#c8c81e", 20);
label(1513, 376, "s3", "#c8c81e", 20);
label(1818, 391, "s4", "#c8c81e", 20);
label(2134, 635, "s5", "#c8c81e", 20);
label(2025, 998, "B1", "#c8c81e", 20);
label(2214, 1028, "B2", "#c8c81e", 20);
label(87, 1093, "←2863.65", "#a8a8a8", 18);

/* Signal arrows, placed at bar and price */
function arrow(bar, price, color, up) {
  var x = xScale(bar);
  var y = yPrice(price);
  var s = up ? -1 : 1;
  svg
    .append("path")
    .attr("d", `M${x - 4},${y - 9 * s}H${x + 4}V${y}H${x + 9}L${x},${y + 9 * s}L${x - 9},${y}H${x - 4}Z`)
    .attr("fill", color);
}
arrow(72, 3391, "#10f030", false);
arrow(90, 3446, "#10f030", false);
arrow(235.1, 3123, "#10f030", false);
arrow(246.2, 2933, "#f01414", true);

/* Quote panel: index summary */
var infoRow = d3.scaleLinear().domain([0, 8]).range([27, 255]);
infoLabels.forEach(function(d, i) {
  label(2382, infoRow(i), d, "#b8b8b8", 24, "cjk");
});
label(2622, infoRow(5), "38", "#c8c800", 20).attr("font-weight", "bold");
label(2622, infoRow(6), "26", "#c8c800", 20).attr("font-weight", "bold");

/* Quote panel: market breadth */
var breadthRow = [286, 315, 343, 371, 400, 433, 461, 490, 519, 547];
breadthLeft.forEach(function(d, i) {
  label(2382, breadthRow[i], d, "#b8b8b8", 24, "cjk");
  var r = breadthRight[i];
  if (i === 0 || i === 9) {
    label(2436, breadthRow[i], r, "#b8b8b8", 24, "cjk");
  } else {
    label(2436, breadthRow[i], r, "#b8b8b8", 20).attr("font-weight", "bold");
  }
  svg
    .append("rect")
    .attr("x", 2517.5)
    .attr("y", breadthRow[i] - 8)
    .attr("width", breadthWidth(breadthCounts[i]))
    .attr("height", 16)
    .attr("fill", i < 5 ? "#f03232" : "#00c040");
});

/* Quote panel: fund flow */
var flowRow = [581, 610];
flowLabels.forEach(function(d, i) {
  label(2382, flowRow[i], d, "#b8b8b8", 24, "cjk");
  svg
    .append("rect")
    .attr("x", 2501)
    .attr("y", flowRow[i] - 6)
    .attr("width", flowWidth(Math.abs(flowValues[i])))
    .attr("height", 12)
    .attr("fill", "#00c040");
  label(2585, flowRow[i], d3.format(".2f")(flowValues[i]), "#00b43c", 20).attr("font-weight", "bold");
});

/* Quote panel: tick tape */
var tapeRow = d3.scaleLinear().domain([0, 47]).range([642, 1911]);
tapeTimes.forEach(function(d, i) {
  label(2381, tapeRow(i), d, "#c0c0c0", 21).attr("font-weight", "bold");
  label(2500.5, tapeRow(i), d3.format(".2f")(tapePrices[i]), "#00b43c", 21).attr("font-weight", "bold");
});
</script>
</body>
</html>
